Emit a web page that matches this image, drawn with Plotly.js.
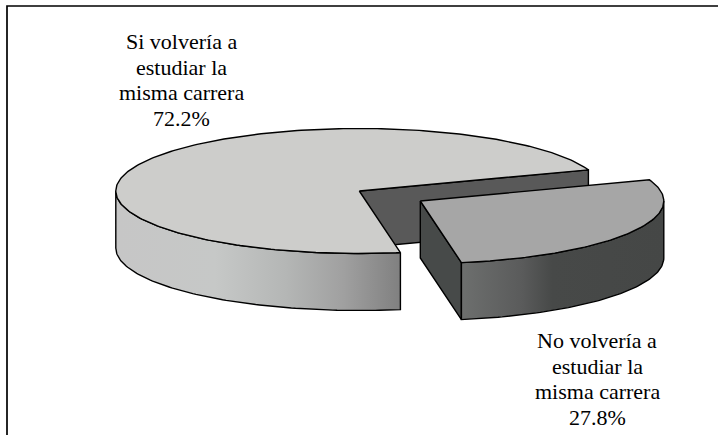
<!DOCTYPE html>
<html><head><meta charset="utf-8">
<script src="https://cdn.plot.ly/plotly-3.0.1.min.js"></script>
<style>html,body{margin:0;padding:0;background:#fff}#c{width:718px;height:435px}</style>
</head><body><div id="c"></div>
<script>
const categories = ["Si volvería a estudiar la misma carrera", "No volvería a estudiar la misma carrera"];
const values = [72.2, 27.8];
const labelLines = [
  ["Si volvería a", "estudiar la", "misma carrera"],
  ["No volvería a", "estudiar la", "misma carrera"]
];
const topColors = ["#cdcdcb", "#a6a6a6"];
const innerColors = ["#595959", "#474a49"];
const wallStops = [
  [[0,"#c6c6c6"],[0.35,"#c6c8c7"],[0.6,"#b4b6b5"],[0.8,"#a0a0a0"],[1,"#808080"]],
  [[0,"#6d6f6e"],[0.3,"#5a5b5b"],[0.45,"#474948"],[1,"#454746"]]
];
// projection of the pie
const cx=359.3, cy=191, rx=243.5, ry=62.5, depth=57;
const explode=[61,10];
const startDeg=-19.8;
const labelPos=[{x:181,y:[41,67,92,118]},{x:597,y:[340,366,391,417]}];

const rad=d=>d*Math.PI/180;
function arc(a,b,ox,oy,dz){
  const xs=[],ys=[],n=Math.max(2,Math.ceil(Math.abs(b-a)));
  for(let i=0;i<=n;i++){const t=rad(a+(b-a)*i/n);xs.push(cx+ox+rx*Math.cos(t));ys.push(cy+oy+ry*Math.sin(t)+dz);}
  return [xs,ys];
}
const line={color:"#000",width:1.4};
function poly(xs,ys,color,grad){
  const t={type:"scatter",mode:"lines",x:xs.concat(xs[0]),y:ys.concat(ys[0]),fill:"toself",line,hoverinfo:"skip",showlegend:false};
  if(grad) t.fillgradient={type:"horizontal",colorscale:grad}; else t.fillcolor=color;
  return t;
}
const smallSweep=values[1]/(values[0]+values[1])*360;
const smallEnd=startDeg+smallSweep;
const bigEnd=startDeg+360;
const traces=[];
// large slice: cut wall seen through the gap
{
  const [ax,ay]=arc(startDeg,startDeg,0,0,0);
  traces.push(poly([cx,ax[0],ax[0],cx],[cy,ay[0],ay[0]+depth,cy+depth],innerColors[0]));
  const [tx,ty]=arc(smallEnd,180,0,0,0);
  const [bx,by]=arc(180,smallEnd,0,0,depth);
  traces.push(poly(tx.concat(bx),ty.concat(by),null,wallStops[0]));
  const [fx,fy]=arc(smallEnd,bigEnd,0,0,0);
  traces.push(poly([cx].concat(fx),[cy].concat(fy),topColors[0]));
}
// small slice, pulled out
{
  const ox=explode[0],oy=explode[1];
  const [ex,ey]=arc(smallEnd,smallEnd,ox,oy,0);
  traces.push(poly([cx+ox,ex[0],ex[0],cx+ox],[cy+oy,ey[0],ey[0]+depth,cy+oy+depth],innerColors[1]));
  const [tx,ty]=arc(0,smallEnd,ox,oy,0);
  const [bx,by]=arc(smallEnd,0,ox,oy,depth);
  traces.push(poly(tx.concat(bx),ty.concat(by),null,wallStops[1]));
  const [fx,fy]=arc(startDeg,smallEnd,ox,oy,0);
  traces.push(poly([cx+ox].concat(fx),[cy+oy].concat(fy),topColors[1]));
}
const annotations=[];
labelLines.forEach((ls,i)=>{
  ls.concat(values[i].toFixed(1)+"%").forEach((txt,j)=>{
    annotations.push({x:labelPos[i].x,y:labelPos[i].y[j],xref:"x",yref:"y",text:txt,showarrow:false,
      xanchor:"center",yanchor:"middle",font:{family:"Liberation Serif",size:22,color:"#000"}});
  });
});
const axis={visible:false,fixedrange:true};
Plotly.newPlot("c",traces,{
  width:718,height:435,margin:{l:0,r:0,t:0,b:0},paper_bgcolor:"#fff",plot_bgcolor:"#fff",showlegend:false,
  xaxis:{...axis,range:[0,718]},yaxis:{...axis,range:[435,0]},
  annotations,
  shapes:[{type:"rect",xref:"x",yref:"y",x0:7,y0:6,x1:730,y1:450,line:{color:"#000",width:1.7},fillcolor:"rgba(0,0,0,0)",layer:"below"}]
},{displayModeBar:false,staticPlot:true});
</script></body></html>
